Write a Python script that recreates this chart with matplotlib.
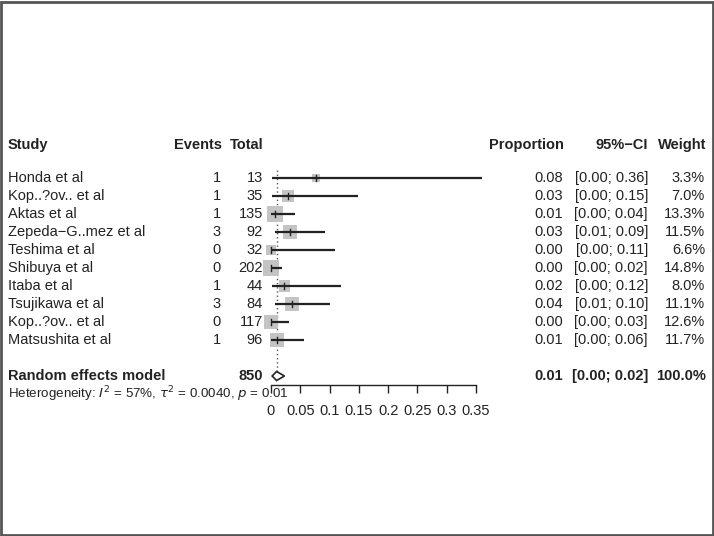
import matplotlib
matplotlib.use("Agg")
import matplotlib.pyplot as plt
import matplotlib.transforms as mtransforms
from matplotlib.patches import Rectangle, Polygon
import numpy as np

plt.rcParams['font.family'] = ['Liberation Sans', 'DejaVu Sans']

# Datos
estudios = ["Honda et al", "Kop..?ov.. et al", "Aktas et al", "Zepeda\u2212G..mez et al",
            "Teshima et al", "Shibuya et al", "Itaba et al", "Tsujikawa et al",
            "Kop..?ov.. et al", "Matsushita et al"]
eventos = [1, 1, 1, 3, 0, 0, 1, 3, 0, 1]
totales = [13, 35, 135, 92, 32, 202, 44, 84, 117, 96]
proporcion = [0.077, 0.029, 0.007, 0.033, 0.0, 0.0, 0.023, 0.036, 0.0, 0.010]
ic_inf = [0.002, 0.001, 0.000, 0.007, 0.0, 0.0, 0.001, 0.007, 0.0, 0.000]
ic_sup = [0.360, 0.149, 0.041, 0.092, 0.109, 0.018, 0.120, 0.101, 0.031, 0.057]
pesos = [3.3, 7.0, 13.3, 11.5, 6.6, 14.8, 8.0, 11.1, 12.6, 11.7]
txt_prop = ["0.08", "0.03", "0.01", "0.03", "0.00", "0.00", "0.02", "0.04", "0.00", "0.01"]
txt_ic = ["[0.00; 0.36]", "[0.00; 0.15]", "[0.00; 0.04]", "[0.01; 0.09]", "[0.00; 0.11]",
          "[0.00; 0.02]", "[0.00; 0.12]", "[0.01; 0.10]", "[0.00; 0.03]", "[0.00; 0.06]"]
txt_peso = ["3.3%", "7.0%", "13.3%", "11.5%", "6.6%", "14.8%", "8.0%", "11.1%", "12.6%", "11.7%"]

# Modelo de efectos aleatorios
total_global = 850
prop_global = 0.0095
ic_global = (0.002, 0.023)
ticks_x = [0, 0.05, 0.1, 0.15, 0.2, 0.25, 0.3, 0.35]
ticks_txt = ["0", "0.05", "0.1", "0.15", "0.2", "0.25", "0.3", "0.35"]

W, H = 714, 536
fig = plt.figure(figsize=(W / 100, H / 100), dpi=100)
ax = fig.add_axes([0, 0, 1, 1])

# escala: x=0 en pixel 271, 586 px por unidad; filas cada 18 px desde y=178
x0, escala = 271, 586
y0, paso = 178, 18
ax.set_xlim((0 - x0) / escala, (W - x0) / escala)
ax.set_ylim((H - y0) / paso, (0 - y0) / paso)
for s in ['top', 'left', 'right']:
    ax.spines[s].set_visible(False)
ax.set_yticks([])

fila_modelo = 11
fila_eje = (385 - y0) / paso
ax.spines['bottom'].set_position(('data', fila_eje))
ax.spines['bottom'].set_bounds(0, 0.35)
ax.spines['bottom'].set_linewidth(1.0)
ax.spines['bottom'].set_color('#222222')
ax.set_xticks(ticks_x)
ax.set_xticklabels(ticks_txt, fontsize=10.5, color='#222222')
ax.tick_params(axis='x', direction='out', length=6, width=1.0, pad=8, colors='#222222')

color_txt = '#222222'
fs = 10.5
tr = mtransforms.blended_transform_factory(fig.transFigure, ax.transData)

def px(x):
    return x / W

# Cabecera
fila_cab = -1.85
ax.text(px(8), fila_cab, "Study", transform=tr, fontsize=fs, fontweight='bold', va='center', ha='left', color=color_txt)
ax.text(px(222), fila_cab, "Events", transform=tr, fontsize=fs, fontweight='bold', va='center', ha='right', color=color_txt)
ax.text(px(264), fila_cab, "Total", transform=tr, fontsize=fs, fontweight='bold', va='center', ha='right', color=color_txt)
ax.text(px(564), fila_cab, "Proportion", transform=tr, fontsize=fs, fontweight='bold', va='center', ha='right', color=color_txt)
ax.text(px(648), fila_cab, "95%\u2212CI", transform=tr, fontsize=fs, fontweight='bold', va='center', ha='right', color=color_txt)
ax.text(px(706), fila_cab, "Weight", transform=tr, fontsize=fs, fontweight='bold', va='center', ha='right', color=color_txt)

# Linea punteada del efecto combinado
ax.plot([prop_global, prop_global], [-0.45, fila_modelo - 0.25], color='#555555', lw=1.0, ls=(0, (1, 2)))

for i in range(len(estudios)):
    ax.text(px(8), i, estudios[i], transform=tr, fontsize=fs, va='center', ha='left', color=color_txt)
    ax.text(px(221), i, str(eventos[i]), transform=tr, fontsize=fs, va='center', ha='right', color=color_txt)
    ax.text(px(263), i, str(totales[i]), transform=tr, fontsize=fs, va='center', ha='right', color=color_txt)
    ax.text(px(563), i, txt_prop[i], transform=tr, fontsize=fs, va='center', ha='right', color=color_txt)
    ax.text(px(648), i, txt_ic[i], transform=tr, fontsize=fs, va='center', ha='right', color=color_txt)
    ax.text(px(705), i, txt_peso[i], transform=tr, fontsize=fs, va='center', ha='right', color=color_txt)

    # cuadrado proporcional al peso
    lado_px = 4.2 * np.sqrt(pesos[i])
    ancho = lado_px / escala
    alto = lado_px / paso
    ax.add_patch(Rectangle((proporcion[i] - ancho / 2, i - alto / 2), ancho, alto,
                           facecolor='#c4c4c4', edgecolor='none', zorder=2))
    ax.plot([ic_inf[i], ic_sup[i]], [i, i], color='#222222', lw=1.6, zorder=3, solid_capstyle='butt')
    ax.plot([proporcion[i], proporcion[i]], [i - 0.15, i + 0.15], color='#222222', lw=1.0, zorder=3)

# Fila del modelo
ax.text(px(8), fila_modelo, "Random effects model", transform=tr, fontsize=fs, fontweight='bold', va='center', ha='left', color=color_txt)
ax.text(px(263), fila_modelo, str(total_global), transform=tr, fontsize=fs, fontweight='bold', va='center', ha='right', color=color_txt)
ax.text(px(563), fila_modelo, "0.01", transform=tr, fontsize=fs, fontweight='bold', va='center', ha='right', color=color_txt)
ax.text(px(648), fila_modelo, "[0.00; 0.02]", transform=tr, fontsize=fs, fontweight='bold', va='center', ha='right', color=color_txt)
ax.text(px(706), fila_modelo, "100.0%", transform=tr, fontsize=fs, fontweight='bold', va='center', ha='right', color=color_txt)
diamante = Polygon([(ic_global[0], fila_modelo), (prop_global, fila_modelo - 0.25),
                    (ic_global[1], fila_modelo), (prop_global, fila_modelo + 0.25)],
                   closed=True, facecolor='white', edgecolor='#222222', lw=1.2, zorder=3)
ax.add_patch(diamante)

ax.text(px(8), (394 - y0) / paso, r"Heterogeneity: $I^2$ = 57%, $\tau^2$ = 0.0040, $p$ = 0.01",
        transform=tr, fontsize=9.6, va='center', ha='left', color=color_txt)

# Marco de la imagen
fig.patches.append(Rectangle((0.001, 0.002), 0.997, 0.995, transform=fig.transFigure,
                             fill=False, edgecolor='#555555', lw=2.0))

fig.savefig("out.png", dpi=100)
